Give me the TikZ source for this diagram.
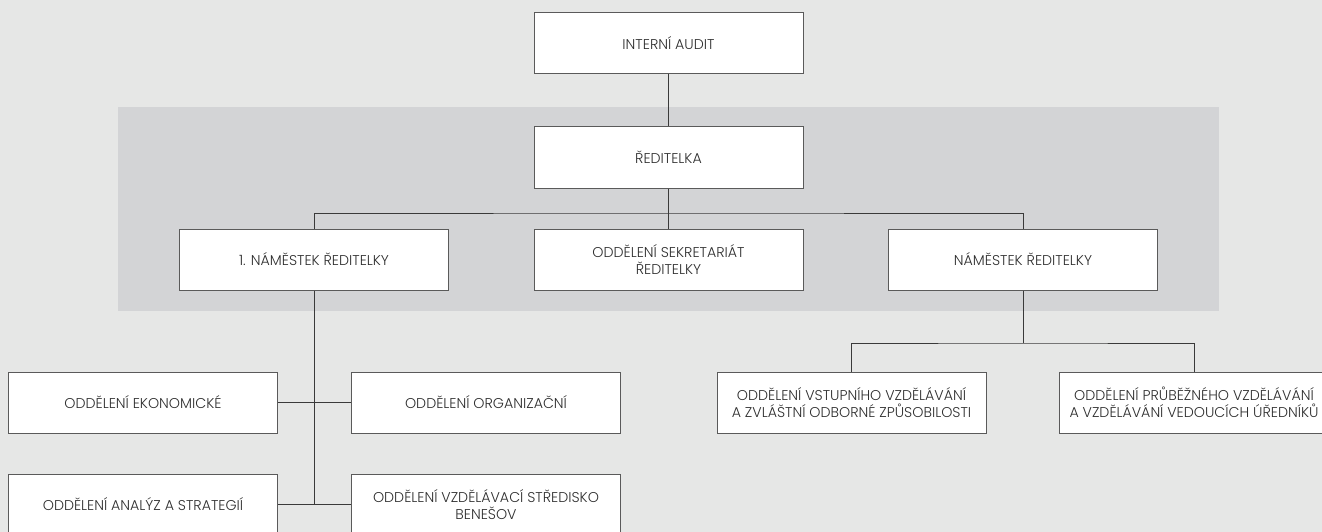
\documentclass[tikz,border=0pt]{standalone}
\usepackage{fontspec}
\setmainfont{Poppins}[UprightFont=* Light]
\definecolor{bgc}{HTML}{E6E7E6}
\definecolor{bandc}{HTML}{D3D4D6}
\definecolor{edgec}{HTML}{5A5A5A}
\definecolor{linec}{HTML}{3A3A3A}
\definecolor{txtc}{HTML}{2E2E2E}
\begin{document}
\begin{tikzpicture}[x=1pt,y=-1pt,
  unit/.style={draw=edgec, line width=1pt, fill=white, minimum width=269pt, minimum height=61pt,
    inner sep=0pt, align=center, text=txtc, font=\fontsize{14.2}{17.5}\selectfont},
  conn/.style={draw=linec, line width=0.9pt}]
\clip (0,0) rectangle (1322,532);
\fill[bgc] (0,0) rectangle (1322,532);
\fill[bandc] (118,107) rectangle (1219,311);
\node[unit] (audit) at (668.5,43.5) {INTERNÍ AUDIT};
\node[unit] (red) at (668.5,157.5) {ŘEDITELKA};
\node[unit] (nam1) at (314,259.5) {1. NÁMĚSTEK ŘEDITELKY};
\node[unit] (sekr) at (668.5,259.5) {ODDĚLENÍ SEKRETARIÁT\\ŘEDITELKY};
\node[unit] (nam2) at (1023,259.5) {NÁMĚSTEK ŘEDITELKY};
\node[unit] (ekon) at (143,402.5) {ODDĚLENÍ EKONOMICKÉ};
\node[unit] (org) at (486,402.5) {ODDĚLENÍ ORGANIZAČNÍ};
\node[unit] (anal) at (143,504.5) {ODDĚLENÍ ANALÝZ A STRATEGIÍ};
\node[unit] (vzd) at (486,504.5) {ODDĚLENÍ VZDĚLÁVACÍ STŘEDISKO\\BENEŠOV};
\node[unit] (vstup) at (851.5,402.5) {ODDĚLENÍ VSTUPNÍHO VZDĚLÁVÁNÍ\\A ZVLÁŠTNÍ ODBORNÉ ZPŮSOBILOSTI};
\node[unit] (prub) at (1194,402.5) {ODDĚLENÍ PRŮBĚŽNÉHO VZDĚLÁVÁNÍ\\A VZDĚLÁVÁNÍ VEDOUCÍCH ÚŘEDNÍKŮ};
\coordinate (bus) at (668.5,213);
\coordinate (bus2) at (1023,343);
\draw[conn] (audit.south) -- (red.north);
\draw[conn] (red.south) -- (sekr.north);
\draw[conn] (nam1.north) |- (bus) -| (nam2.north);
\draw[conn] (nam1.south) -- (nam1.south |- vzd.west);
\draw[conn] (ekon.east) -- (org.west);
\draw[conn] (anal.east) -- (vzd.west);
\draw[conn] (nam2.south) -- (bus2);
\draw[conn] (vstup.north) |- (bus2) -| (prub.north);
\end{tikzpicture}
\end{document}
